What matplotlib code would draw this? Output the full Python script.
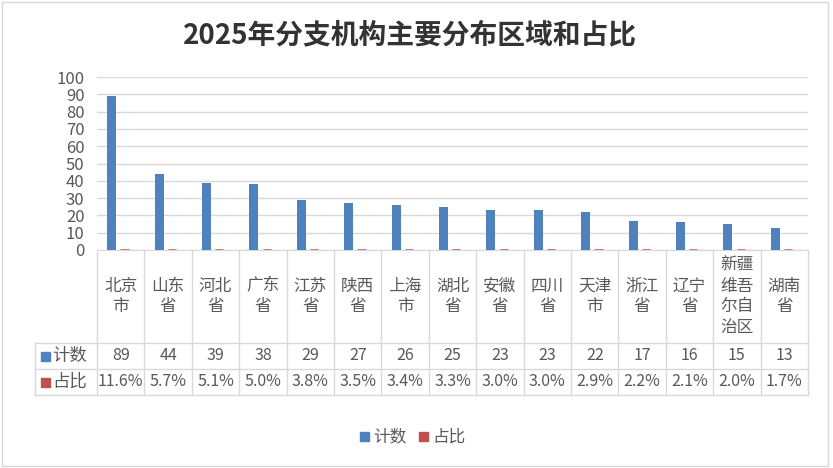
import numpy as np
import matplotlib.pyplot as plt
from matplotlib.patches import Rectangle
from matplotlib.transforms import blended_transform_factory

plt.rcParams["font.family"] = ["Noto Sans CJK SC", "DejaVu Sans"]

regions = ["北京市", "山东省", "河北省", "广东省", "江苏省", "陕西省", "上海市", "湖北省",
           "安徽省", "四川省", "天津市", "浙江省", "辽宁省", "新疆维吾尔自治区", "湖南省"]
counts = [89, 44, 39, 38, 29, 27, 26, 25, 23, 23, 22, 17, 16, 15, 13]
shares = [11.6, 5.7, 5.1, 5.0, 3.8, 3.5, 3.4, 3.3, 3.0, 3.0, 2.9, 2.2, 2.1, 2.0, 1.7]
yticks = list(range(0, 101, 10))

blue = "#4f81bd"
red = "#c0504d"
grid_c = "#d9d9d9"
text_c = "#595959"

W, H = 833, 468
fig = plt.figure(figsize=(W / 100, H / 100), dpi=100)


def fy(py):
    return 1 - py / H


# chart border
fig.patches.append(Rectangle((2 / W, fy(466)), 826 / W, 464 / H, transform=fig.transFigure,
                             fill=False, edgecolor="#d9d9d9", lw=1))

ax = fig.add_axes([97 / W, fy(250), (808 - 97) / W, (250 - 77) / H])
x = np.arange(len(regions))
ax.bar(x - 0.19, counts, width=0.19, color=blue, zorder=3)
# shares plotted as fractions, as in the source sheet
ax.bar(x + 0.08, np.array(shares) / 100, width=0.17, color=red, edgecolor=red, lw=1.8, zorder=3)

ax.set_xlim(-0.5, len(regions) - 0.5)
ax.set_ylim(0, 100)
ax.set_yticks(yticks)
ax.set_yticklabels([str(t) for t in yticks], fontsize=12, color=text_c)
ax.tick_params(axis="y", length=0, pad=9)
ax.tick_params(axis="x", bottom=False, labelbottom=False)
ax.grid(axis="y", color=grid_c, lw=1, zorder=0)
for s in ["top", "right", "left"]:
    ax.spines[s].set_visible(False)
ax.spines["bottom"].set_color(grid_c)

# data table below the plot
tr = blended_transform_factory(ax.transData, fig.transFigure)
kw = dict(color=grid_c, lw=1, transform=tr, clip_on=False)
n = len(regions)
left = -0.5 - 62 / 47.4
for e in np.arange(n + 1) - 0.5:
    ax.plot([e, e], [fy(250), fy(395)], **kw)
for py in (343, 369, 395):
    ax.plot([left, n - 0.5], [fy(py), fy(py)], **kw)
ax.plot([left] * 2, [fy(343), fy(395)], **kw)

for i, name in enumerate(regions):
    lines = "\n".join(name[k:k + 2] for k in range(0, len(name), 2))
    ax.text(i, fy(296.5), lines, transform=tr, ha="center", va="center", fontsize=12,
            color=text_c, linespacing=1.3)
    ax.text(i, fy(356), str(counts[i]), transform=tr, ha="center", va="center",
            fontsize=11.5, color=text_c)
    ax.text(i, fy(382), f"{shares[i]:.1f}%", transform=tr, ha="center", va="center",
            fontsize=11.5, color=text_c)

for py, col, lab in [(356, blue, "计数"), (382, red, "占比")]:
    fig.patches.append(Rectangle((41 / W, fy(py + 4.5)), 9 / W, 9 / H, transform=fig.transFigure,
                                 color=col))
    fig.text(52 / W, fy(py), lab, ha="left", va="center", fontsize=12.5, color=text_c)

# legend
for px, col, lab in [(360, blue, "计数"), (419, red, "占比")]:
    fig.patches.append(Rectangle((px / W, fy(441)), 9 / W, 9 / H, transform=fig.transFigure,
                                 color=col))
    fig.text((px + 13) / W, fy(437), lab, ha="left", va="center", fontsize=12, color=text_c)

fig.text(410 / W, fy(35), "2025年分支机构主要分布区域和占比", ha="center", va="center",
         fontsize=20, fontweight="bold", color="#333333")

fig.savefig("out.png", dpi=100)
